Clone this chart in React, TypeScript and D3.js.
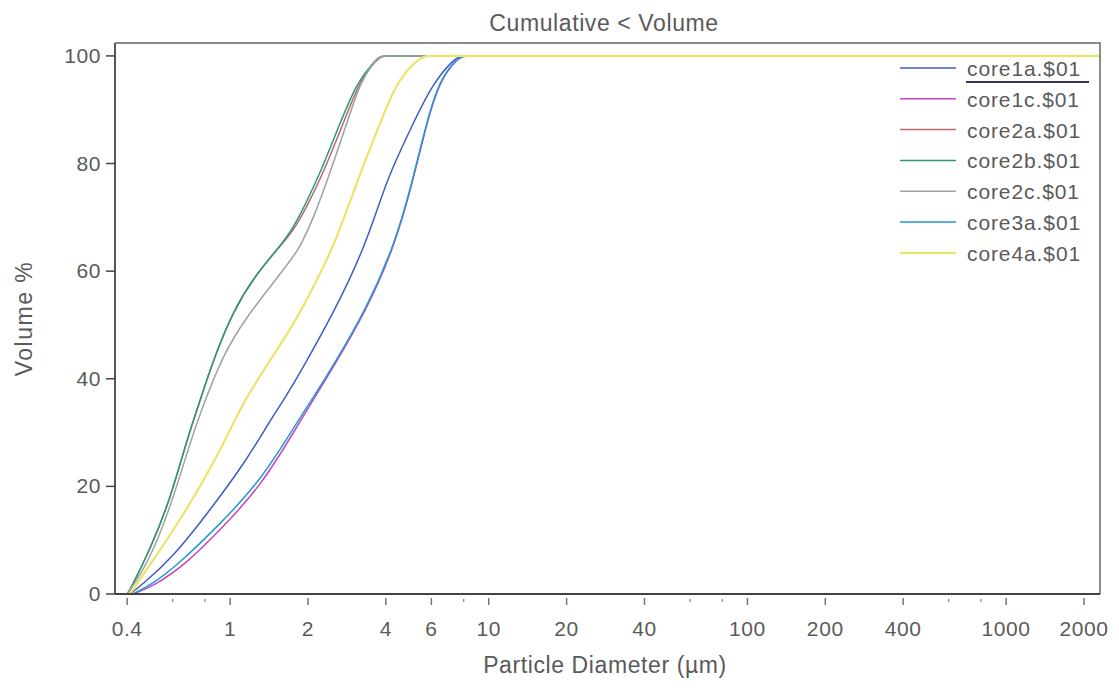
import React from 'react';
import * as d3 from 'd3';

const W = 1119;
const H = 691;
const margin = { left: 115, right: 19, top: 43, bottom: 97 };

const seriesNames = ['core1a.$01', 'core1c.$01', 'core2a.$01', 'core2b.$01', 'core2c.$01', 'core3a.$01', 'core4a.$01'];
const seriesColors = ['#3f5cc4', '#c646c0', '#b86a6a', '#2a9a76', '#a0a0a0', '#1f9ad6', '#ece36a'];

// [diameter µm, cumulative volume %]
const core1a = [[0.41, 0], [0.449, 1.4], [0.604, 6.9], [0.837, 15.6], [1.16, 24.9], [1.43, 32.3], [1.61, 36], [1.92, 42.2], [2.51, 52.2], [3.25, 63.5], [3.8, 73], [4.15, 78.2], [5.1, 87.5], [6.1, 95], [7.3, 99.3], [7.8, 100], [8.3, 100], [8.8, 100], [2200, 100]];
const core1c = [[0.42, 0], [0.505, 1.4], [0.68, 5.7], [0.915, 11.9], [1.31, 19.9], [1.81, 31], [2.0, 34.5], [2.51, 42.2], [3.37, 52.8], [4.27, 64], [4.96, 74.5], [5.75, 87.5], [6.48, 95.5], [7.5, 99.3], [8.0, 100], [8.5, 100], [9, 100], [2200, 100]];
const core2a = [[0.4, 0], [0.41, 0.7], [0.49, 8.2], [0.586, 17.5], [0.68, 28.6], [0.766, 36], [0.862, 43.5], [1.03, 52.8], [1.27, 59.6], [1.515, 63.9], [1.757, 67.5], [1.98, 72], [2.29, 78.2], [2.74, 87.5], [3.15, 95], [3.6, 98.8], [3.85, 100], [4.1, 100], [4.4, 100], [2200, 100]];
const core2b = [[0.4, 0], [0.41, 0.7], [0.49, 8.2], [0.586, 17.5], [0.68, 28.6], [0.766, 36], [0.862, 43.5], [1.03, 52.8], [1.27, 59.6], [1.515, 63.9], [1.757, 68], [1.98, 73], [2.23, 78.2], [2.66, 87.5], [3.09, 95], [3.58, 98.8], [3.8, 100], [4.05, 100], [4.3, 100], [2200, 100]];
const core2c = [[0.4, 0], [0.449, 3.4], [0.521, 9.5], [0.604, 18], [0.7, 28], [0.766, 33.6], [0.942, 44.7], [1.16, 51.5], [1.43, 57.1], [1.757, 62.7], [1.86, 64.5], [2.1, 69.8], [2.43, 78.2], [2.83, 87.5], [3.18, 95], [3.58, 98.8], [3.8, 100], [4.05, 100], [4.3, 100], [2200, 100]];
const core3a = [[0.42, 0], [0.5, 1.8], [0.63, 5.5], [0.915, 13], [1.31, 21], [1.81, 31.8], [2.0, 35], [2.51, 42.5], [3.37, 53.1], [4.27, 64.3], [4.96, 74.8], [5.75, 87.8], [6.48, 95.7], [7.5, 99.4], [7.95, 100], [8.45, 100], [9, 100], [2200, 100]];
const core4a = [[0.41, 0], [0.505, 6.3], [0.68, 15.6], [0.888, 25.5], [1.0, 30.5], [1.125, 35.5], [1.345, 41.6], [1.81, 50.9], [2.23, 59.6], [2.58, 65.8], [3.18, 78.2], [3.8, 87.5], [4.4, 95], [5.1, 98.6], [5.6, 100], [6.0, 100], [6.4, 100], [2300, 100]];
const seriesData = [core1a, core1c, core2a, core2b, core2c, core3a, core4a];

const xTicks = [0.4, 1, 2, 4, 6, 10, 20, 40, 100, 200, 400, 1000, 2000];
const xMinorTicks = [0.6, 0.8, 8, 60, 80, 600, 800];
const yTicks = [0, 20, 40, 60, 80, 100];

const FONT = '"Liberation Sans", Arial, sans-serif';
const TEXT = '#5a5a5a';
const AXIS = '#444';

export default function App() {
  const x = d3.scaleLog().domain([0.359, 2307]).range([margin.left, W - margin.right]);
  const y = d3.scaleLinear().domain([0, 102.4]).range([H - margin.bottom, margin.top]);
  const line = d3.line<number[]>()
    .x(d => x(d[0]))
    .y(d => y(d[1]))
    .curve(d3.curveBasis);

  const x0 = margin.left;
  const x1 = W - margin.right;
  const y0 = H - margin.bottom;
  const y1 = margin.top;

  return (
    <svg width={W} height={H} style={{ position: 'absolute', left: 0, top: 0, background: '#fff' }}>
      <text x={604} y={31} textAnchor="middle" fontFamily={FONT} fontSize={23} letterSpacing={0.6} fill={TEXT}>Cumulative &lt; Volume</text>

      {/* curves */}
      {seriesData.map((s, i) => (
        <path key={seriesNames[i]} d={line(s) || ''} fill="none" stroke={seriesColors[i]}
          strokeWidth={i === 6 ? 2.2 : 1.5} />
      ))}

      {/* frame */}
      <path d={`M${x0},${y1}H${x1}V${y0}`} fill="none" stroke="#666" strokeWidth={1.5} />
      <line x1={x0} x2={x0} y1={y1} y2={y0} stroke={AXIS} strokeWidth={1.8} />
      <line x1={x0} x2={x1} y1={y0} y2={y0} stroke={AXIS} strokeWidth={1.8} />

      {/* y axis */}
      {yTicks.map(t => (
        <g key={t}>
          <line x1={x0 - 9} x2={x0} y1={y(t)} y2={y(t)} stroke={AXIS} strokeWidth={1.5} />
          <text x={x0 - 14} y={y(t) + 7} textAnchor="end" fontFamily={FONT} fontSize={21} letterSpacing={0.6} fill={TEXT}>{t}</text>
        </g>
      ))}
      <text transform={`translate(32,${(y0 + y1) / 2}) rotate(-90)`} textAnchor="middle" fontFamily={FONT} fontSize={23} letterSpacing={1.5} fill={TEXT}>Volume %</text>

      {/* x axis */}
      {xTicks.map(t => (
        <g key={t}>
          <line x1={x(t)} x2={x(t)} y1={y0 + 4} y2={y0 + 11} stroke="#777" strokeWidth={1.5} />
          <text x={x(t)} y={y0 + 42} textAnchor="middle" fontFamily={FONT} fontSize={21} letterSpacing={0.6} fill={TEXT}>{t}</text>
        </g>
      ))}
      {xMinorTicks.map(t => (
        <line key={t} x1={x(t)} x2={x(t)} y1={y0 + 5} y2={y0 + 8} stroke="#888" strokeWidth={1.3} />
      ))}
      <text x={605} y={673} textAnchor="middle" fontFamily={FONT} fontSize={23} letterSpacing={0.6} fill={TEXT}>Particle Diameter (µm)</text>

      {/* legend */}
      {seriesNames.map((n, i) => {
        const ly = 68 + i * 30.8;
        return (
          <g key={n}>
            <line x1={900} x2={956} y1={ly} y2={ly} stroke={seriesColors[i]} strokeWidth={i === 6 ? 2.2 : 1.5} />
            <text x={967} y={ly + 8} fontFamily={FONT} fontSize={21} letterSpacing={0.9} fill={TEXT}>{n}</text>
          </g>
        );
      })}
      <line x1={966} x2={1089} y1={82} y2={82} stroke="#3a3050" strokeWidth={1.8} />
    </svg>
  );
}
